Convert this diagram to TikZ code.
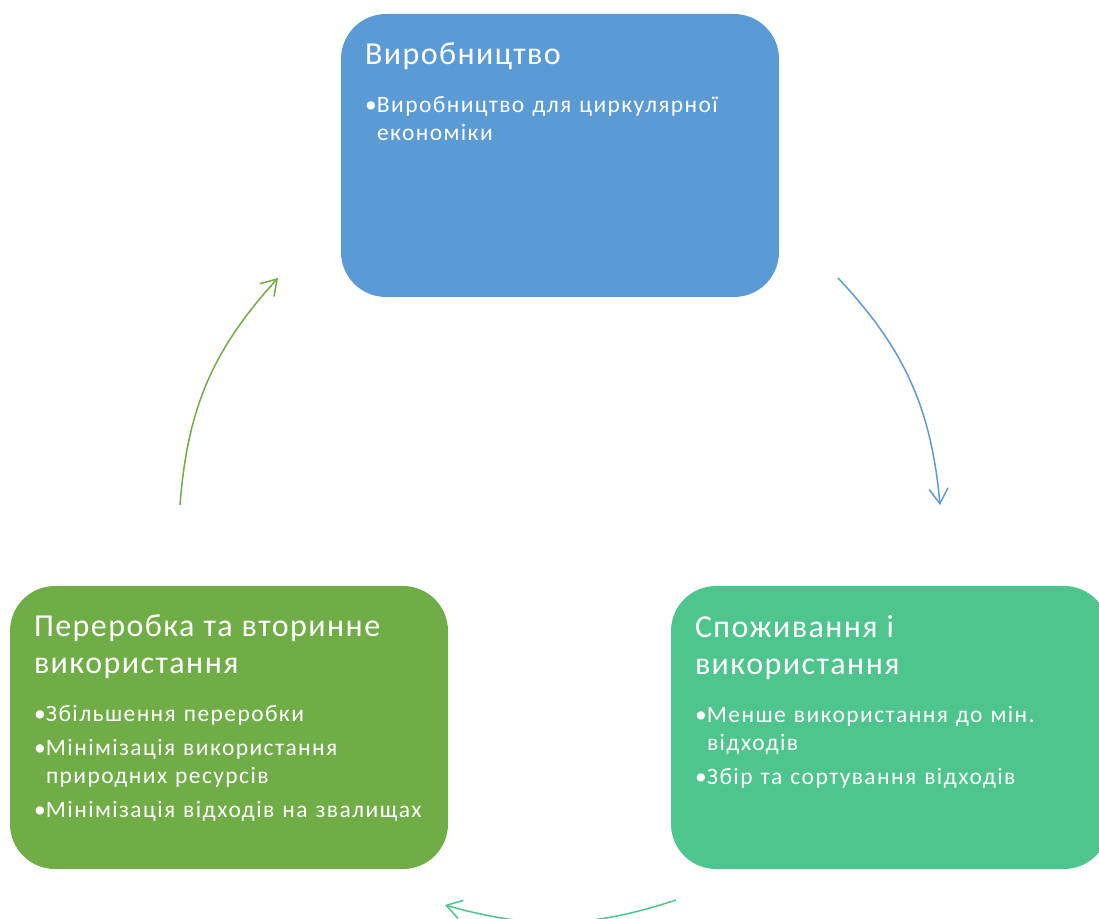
\documentclass[tikz,border=0pt]{standalone}
\usepackage{fontspec}
\setmainfont{Carlito}
\usepackage{tikz}
\usetikzlibrary{arrows.meta}
\usetikzlibrary{positioning}

\definecolor{prodblue}{HTML}{5B9BD5}
\definecolor{usegreen}{HTML}{4EC58D}
\definecolor{recgreen}{HTML}{70AD47}

\newcommand{\stagetitle}{\fontsize{32}{37}\selectfont\addfontfeature{LetterSpace=4.5}\spaceskip=9pt}
\newcommand{\stagetext}{\fontsize{23.5}{28}\selectfont\addfontfeature{LetterSpace=6}\spaceskip=8pt}
\newcommand{\bul}{\par\hangindent=12pt\hangafter=1\noindent\makebox[12pt][l]{•}}

\begin{document}
\begin{tikzpicture}[x=1pt, y=1pt,
    stage/.style={rectangle, rounded corners=45pt, minimum width=438pt, minimum height=283pt, inner sep=0pt},
    stagetxt/.style={text=white, text width=425pt, align=left, inner sep=0pt},
    cyc/.style={line width=1.5pt, -{Straight Barb[length=15pt, width=19pt]}}]
      % page frame, the right box runs off the edge
      \useasboundingbox (0, 0) rectangle (1099, 918);
      \clip (0, 0) rectangle (1099, 918);

      \node [stage, fill=prodblue] (prod) at (560, 762.5) {};
      \node [stage, fill=usegreen] (cons) at (890, 190.5) {};
      \node [stage, fill=recgreen] (recy) at (229, 190.5) {};

      \node [stagetxt, below right=29pt and 24pt of prod.north west] (prodtxt) {%
        {\stagetitle Виробництво\par}\vspace{20pt}
        {\stagetext \bul Виробництво для циркулярної\newline економіки\par}};
      \node [stagetxt, below right=29pt and 24pt of cons.north west] (constxt) {%
        {\stagetitle Споживання і\newline використання\par}\vspace{20pt}
        {\stagetext \bul Менше використання до мін.\newline відходів\par}\vspace{6pt}
        {\stagetext \bul Збір та сортування відходів\par}};
      \node [stagetxt, below right=29pt and 24pt of recy.north west] (recytxt) {%
        {\stagetitle Переробка та вторинне\newline використання\par}\vspace{20pt}
        {\stagetext \bul Збільшення переробки\par}\vspace{6pt}
        {\stagetext \bul Мінімізація використання\newline природних ресурсів\par}\vspace{6pt}
        {\stagetext \bul Мінімізація відходів на звалищах\par}};

      % arcs of the cycle
      \coordinate (a1) at (838, 640);
      \coordinate (a2) at (940, 413);
      \coordinate (b1) at (676, 18);
      \coordinate (b2) at (445, 13);
      \coordinate (c1) at (180, 413);
      \coordinate (c2) at (278, 640);
      \draw [cyc, prodblue] (a1) to [bend left=19] (a2);
      \draw [cyc, usegreen] (b1) to [bend left=17] (b2);
      \draw [cyc, recgreen] (c1) to [bend left=19] (c2);
\end{tikzpicture}
\end{document}
